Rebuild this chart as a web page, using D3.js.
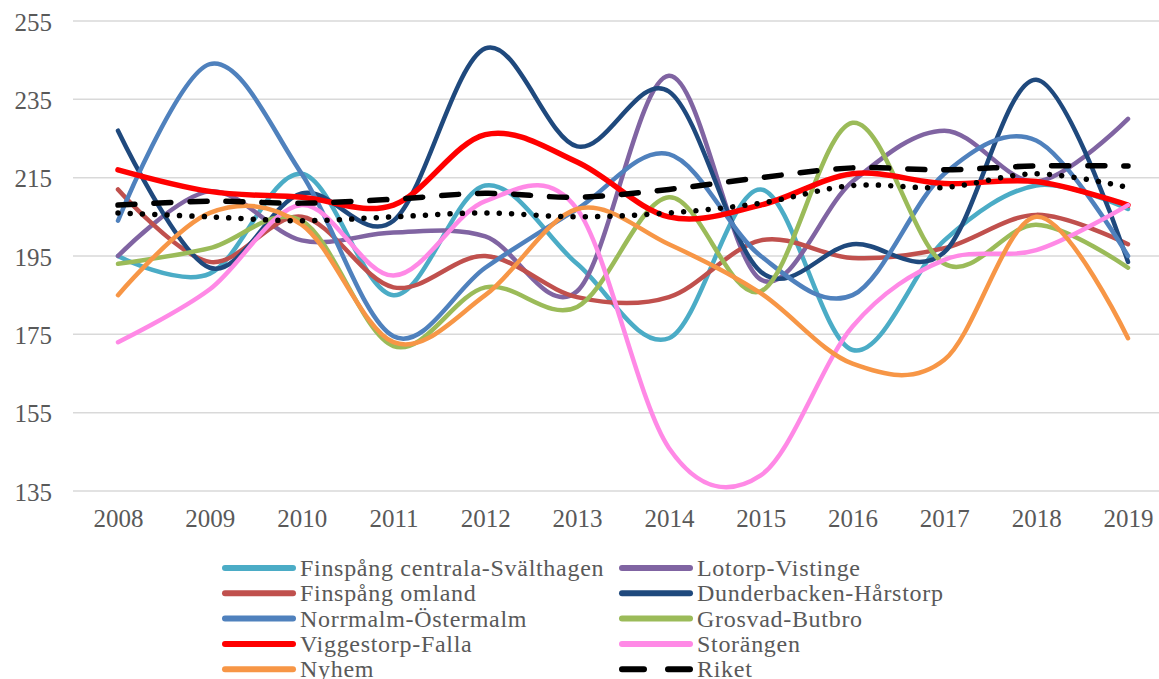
<!DOCTYPE html>
<html>
<head>
<meta charset="utf-8">
<script src="https://cdn.jsdelivr.net/npm/d3@7"></script>
<style>
  body { margin: 0; background: #fff; }
  svg { display: block; }
  text { font-family: "Liberation Serif", serif; fill: #595959; }
</style>
</head>
<body>
<svg id="chart" width="1159" height="679"></svg>
<script>
// years on the x axis
var years = [2008, 2009, 2010, 2011, 2012, 2013, 2014, 2015, 2016, 2017, 2018, 2019];
var yTicks = [135, 155, 175, 195, 215, 235, 255];

// series values
var centralaSvalthagen = [195, 190.5, 216, 185, 213, 193, 174, 212, 171, 199, 213, 207];
var finspangOmland = [212, 193.5, 205, 187, 195, 184.5, 184.5, 199, 194.5, 197, 205.5, 198];
var norrmalmOstermalm = [204, 244, 216, 174.5, 192, 207, 221, 195, 185, 216, 224.5, 195];
var viggestorpFalla = [217, 211.5, 210, 208, 226, 219, 205, 208, 216, 213.5, 214, 208];
var nyhem = [185, 206, 203, 173, 185, 207, 198, 185.5, 167.5, 168.5, 205, 174];
var lotorpVistinge = [195, 211.5, 199, 201, 200, 186, 241, 189, 214, 227, 214, 230];
var dunderbackenHarstorp = [227, 192, 211, 204, 248, 223, 237, 191, 198, 196, 240, 193.5];
var grosvadButbro = [193, 197, 204, 172, 187, 182, 210, 186, 229, 193, 203, 192];
var storangen = [173, 186.5, 208, 190, 209, 207, 146, 139, 177, 194, 196.5, 208];
var riket = [208, 209, 208.5, 209.5, 211, 210, 212, 215, 217.5, 217, 218, 218];
var dottedLine = [206, 205, 204, 205, 206, 205, 206, 208.5, 213, 212.5, 216, 212.5];

var series = [
    {name: 'Finspång centrala-Svälthagen', values: centralaSvalthagen, color: '#4bacc6', width: 4.5},
    {name: 'Lotorp-Vistinge', values: lotorpVistinge, color: '#8064a2', width: 4.5},
    {name: 'Finspång omland', values: finspangOmland, color: '#c0504d', width: 4.5},
    {name: 'Dunderbacken-Hårstorp', values: dunderbackenHarstorp, color: '#1f497d', width: 4.5},
    {name: 'Norrmalm-Östermalm', values: norrmalmOstermalm, color: '#4f81bd', width: 4.5},
    {name: 'Grosvad-Butbro', values: grosvadButbro, color: '#9bbb59', width: 4.5},
    {name: 'Viggestorp-Falla', values: viggestorpFalla, color: '#ff0000', width: 5.5},
    {name: 'Storängen', values: storangen, color: '#ff89e6', width: 4.5},
    {name: 'Nyhem', values: nyhem, color: '#f79646', width: 4.5},
    {name: 'Riket', values: riket, color: '#000000', width: 5.5, dash: '17,19'},
    {name: null, values: dottedLine, color: '#000000', width: 5.5, dash: '0.01,12.3'}
];

var svg = d3.select('#chart');

var x = d3.scalePoint().domain(years).range([118, 1128]);
var y = d3.scaleLinear().domain([135, 255]).range([491, 21]);

// grid lines
svg.append('g')
    .attr('class', 'grid')
    .selectAll('line')
    .data(yTicks)
    .enter().append('line')
    .attr('x1', 73)
    .attr('x2', 1159)
    .attr('y1', function(d) { return y(d); })
    .attr('y2', function(d) { return y(d); })
    .attr('stroke', '#d9d9d9')
    .attr('stroke-width', 1.5);

// y axis labels
var yAxis = svg.append('g')
    .attr('transform', 'translate(52,0)')
    .call(d3.axisLeft(y).tickValues(yTicks).tickSize(0).tickPadding(0));
yAxis.select('.domain').remove();
yAxis.selectAll('text')
    .attr('font-size', 25)
    .attr('font-family', '"Liberation Serif", serif')
    .attr('fill', '#595959')
    .attr('dy', '0.36em');

// x axis labels
var xAxis = svg.append('g')
    .attr('transform', 'translate(0,506)')
    .call(d3.axisBottom(x).tickSize(0).tickPadding(0));
xAxis.select('.domain').remove();
xAxis.selectAll('text')
    .attr('font-size', 25)
    .attr('font-family', '"Liberation Serif", serif')
    .attr('fill', '#595959')
    .attr('dy', '0.85em');

var line = d3.line()
    .x(function(d, i) { return x(years[i]); })
    .y(function(d) { return y(d); })
    .curve(d3.curveCatmullRom.alpha(0));

svg.append('g')
    .attr('class', 'lines')
    .selectAll('path')
    .data(series)
    .enter().append('path')
    .attr('d', function(s) { return line(s.values); })
    .attr('fill', 'none')
    .attr('stroke', function(s) { return s.color; })
    .attr('stroke-width', function(s) { return s.width; })
    .attr('stroke-linecap', 'round')
    .attr('stroke-linejoin', 'round')
    .attr('stroke-dasharray', function(s) { return s.dash || null; });

// legend, two columns
var legendItems = series.filter(function(s) { return s.name; });
var legend = svg.append('g')
    .attr('class', 'legend')
    .selectAll('g')
    .data(legendItems)
    .enter().append('g')
    .attr('transform', function(d, i) {
        var col = i % 2;
        var row = Math.floor(i / 2);
        return 'translate(' + (col === 0 ? 225 : 622) + ',' + (568 + row * 25.3) + ')';
    });

legend.append('line')
    .attr('x1', 0)
    .attr('x2', 68)
    .attr('stroke', function(d) { return d.color; })
    .attr('stroke-width', 6)
    .attr('stroke-linecap', 'round')
    .attr('stroke-dasharray', function(d) { return d.dash ? '22,24' : null; });

legend.append('text')
    .attr('x', 75)
    .attr('dy', '0.34em')
    .attr('font-size', 24)
    .attr('letter-spacing', 0.7)
    .text(function(d) { return d.name; });
</script>
</body>
</html>
